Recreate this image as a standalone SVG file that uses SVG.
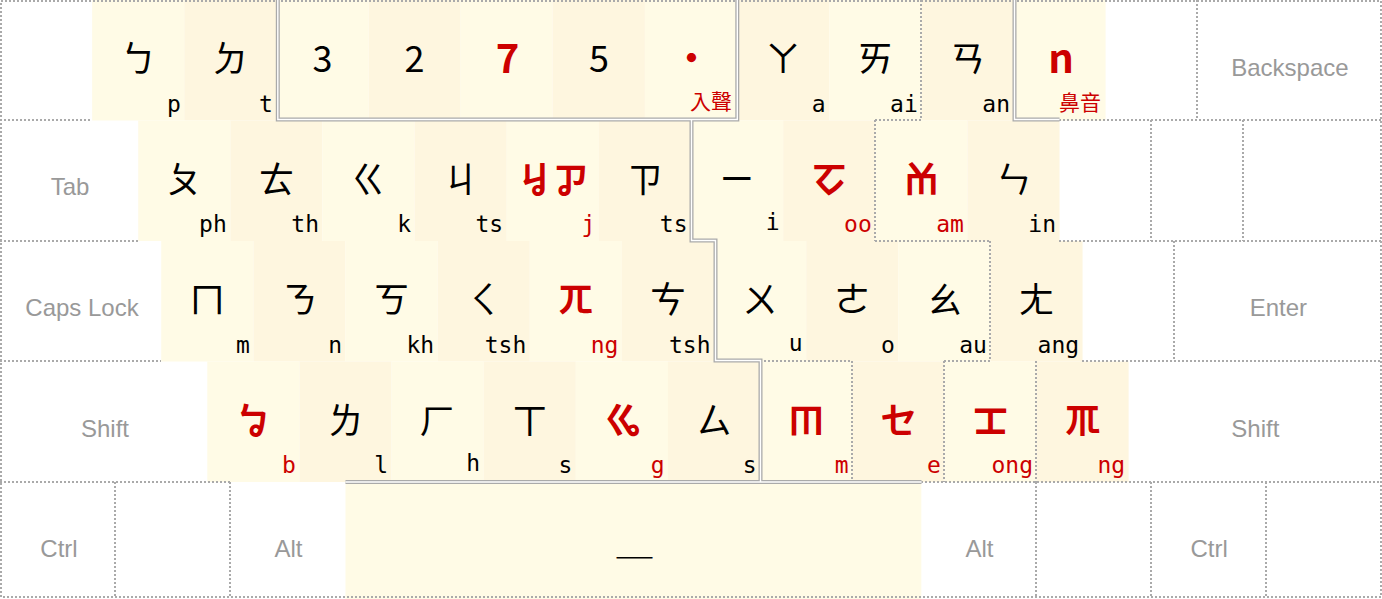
<svg xmlns="http://www.w3.org/2000/svg" width="1382" height="599" viewBox="0 0 1382 599">
<style>
.k1{fill:#fffbe6}
.k2{fill:#fef6df}
.g{font-family:"Noto Sans CJK TC","Noto Sans CJK SC",sans-serif;font-size:36px;text-anchor:middle;fill:#000}
.r{fill:#cc0000;font-weight:bold}
.big{font-size:40px}
.s{font-family:"DejaVu Sans Mono",monospace;font-size:23px;text-anchor:end;fill:#000}
.sr{fill:#cc0000}
.c{font-family:"Noto Sans CJK TC","Noto Sans CJK SC",sans-serif;font-size:21px;text-anchor:end;fill:#cc0000}
.m{font-family:"Liberation Sans",Arial,sans-serif;font-size:24px;fill:#999;text-anchor:middle}
.dot{fill:none;stroke:#aaa;stroke-width:2;stroke-dasharray:2 2}
.dbl{fill:none;stroke:#aaa;stroke-width:4}
.gap{fill:none;stroke:#fff;stroke-width:1.4}
</style>
<rect width="1382" height="599" fill="#fff"/>
<!-- Row 1 -->
<g id="key-backtick"/>
<g id="key-1"><rect class="k1" x="92.13" y="0" width="92.14" height="120.5"/><text class="g" x="138.2" y="72">ㄅ</text><text class="s" x="180.8" y="111.5">p</text></g>
<g id="key-2"><rect class="k2" x="184.27" y="0" width="92.13" height="120.5"/><text class="g" x="230.33" y="72">ㄉ</text><text class="s" x="272.9" y="111.5">t</text></g>
<g id="key-3"><rect class="k1" x="276.4" y="0" width="92.13" height="120.5"/><text class="g" x="322.47" y="72">3</text></g>
<g id="key-4"><rect class="k2" x="368.53" y="0" width="92.14" height="120.5"/><text class="g" x="414.6" y="72">2</text></g>
<g id="key-5"><rect class="k1" x="460.67" y="0" width="92.13" height="120.5"/><text class="g r big" x="507.5" y="73">7</text></g>
<g id="key-6"><rect class="k2" x="552.8" y="0" width="92.13" height="120.5"/><text class="g" x="598.87" y="72">5</text></g>
<g id="key-7"><rect class="k1" x="644.93" y="0" width="92.14" height="120.5"/><text class="g r" x="691.5" y="72">·</text><text class="c" x="732" y="108.5">入聲</text></g>
<g id="key-8"><rect class="k2" x="737.07" y="0" width="92.13" height="120.5"/><text class="g" x="783.13" y="72">ㄚ</text><text class="s" x="825.7" y="111.5">a</text></g>
<g id="key-9"><rect class="k1" x="829.2" y="0" width="92.13" height="120.5"/><text class="g" x="875.27" y="72">ㄞ</text><text class="s" x="917.8" y="111.5">ai</text></g>
<g id="key-0"><rect class="k2" x="921.33" y="0" width="92.14" height="120.5"/><text class="g" x="967.4" y="72">ㄢ</text><text class="s" x="1010" y="111.5">an</text></g>
<g id="key-minus"><rect class="k1" x="1013.47" y="0" width="92.13" height="120.5"/><text class="g r big" x="1061" y="73">n</text><text class="c" x="1101" y="109.5">鼻音</text></g>
<g id="key-equal"/>
<g id="key-backspace"><text class="m" x="1289.9" y="76">Backspace</text></g>
<!-- Row 2 -->
<g id="key-tab"><text class="m" x="70" y="195">Tab</text></g>
<g id="key-q"><rect class="k1" x="138.2" y="120.5" width="92.13" height="120.5"/><text class="g" x="184.27" y="192.5">ㄆ</text><text class="s" x="226.8" y="232">ph</text></g>
<g id="key-w"><rect class="k2" x="230.33" y="120.5" width="92.14" height="120.5"/><text class="g" x="276.4" y="192.5">ㄊ</text><text class="s" x="319" y="232">th</text></g>
<g id="key-e"><rect class="k1" x="322.47" y="120.5" width="92.13" height="120.5"/><text class="g" x="368.53" y="192.5">ㄍ</text><text class="s" x="411.1" y="232">k</text></g>
<g id="key-r"><rect class="k2" x="414.6" y="120.5" width="92.13" height="120.5"/><text class="g" x="460.67" y="192.5">ㄐ</text><text class="s" x="503.2" y="232">ts</text></g>
<g id="key-t"><rect class="k1" x="506.73" y="120.5" width="92.14" height="120.5"/><text class="g r" x="552.8" y="192.5">ㆢㆡ</text><text class="s sr" x="595.4" y="232">j</text></g>
<g id="key-y"><rect class="k2" x="598.87" y="120.5" width="92.13" height="120.5"/><text class="g" x="644.93" y="192.5">ㄗ</text><text class="s" x="687.5" y="232">ts</text></g>
<g id="key-u"><rect class="k1" x="691" y="120.5" width="92.13" height="120.5"/><text class="g" x="737.07" y="192.5">ㄧ</text><text class="s" x="779.6" y="230">i</text></g>
<g id="key-i"><rect class="k2" x="783.13" y="120.5" width="92.14" height="120.5"/><text class="g r" x="829.2" y="192.5">ㆦ</text><text class="s sr" x="871.8" y="232">oo</text></g>
<g id="key-o"><rect class="k1" x="875.27" y="120.5" width="92.13" height="120.5"/><text class="g r" x="921.33" y="192.5">ㆰ</text><text class="s sr" x="963.9" y="232">am</text></g>
<g id="key-p"><rect class="k2" x="967.4" y="120.5" width="92.13" height="120.5"/><text class="g" x="1013.47" y="192.5">ㄣ</text><text class="s" x="1056" y="232">in</text></g>
<g id="key-lbracket"/>
<g id="key-rbracket"/>
<g id="key-backslash"/>
<!-- Row 3 -->
<g id="key-caps"><text class="m" x="82" y="316">Caps Lock</text></g>
<g id="key-a"><rect class="k1" x="161.23" y="241" width="92.14" height="120.5"/><text class="g" x="207.3" y="313">ㄇ</text><text class="s" x="249.9" y="352.5">m</text></g>
<g id="key-s"><rect class="k2" x="253.37" y="241" width="92.13" height="120.5"/><text class="g" x="299.43" y="313">ㄋ</text><text class="s" x="342" y="352.5">n</text></g>
<g id="key-d"><rect class="k1" x="345.5" y="241" width="92.13" height="120.5"/><text class="g" x="391.57" y="313">ㄎ</text><text class="s" x="434.1" y="352.5">kh</text></g>
<g id="key-f"><rect class="k2" x="437.63" y="241" width="92.14" height="120.5"/><text class="g" x="483.7" y="313">ㄑ</text><text class="s" x="526.3" y="352.5">tsh</text></g>
<g id="key-g"><rect class="k1" x="529.77" y="241" width="92.13" height="120.5"/><text class="g r" x="575.83" y="313">ㄫ</text><text class="s sr" x="618.4" y="352.5">ng</text></g>
<g id="key-h"><rect class="k2" x="621.9" y="241" width="92.13" height="120.5"/><text class="g" x="667.97" y="313">ㄘ</text><text class="s" x="710.5" y="352.5">tsh</text></g>
<g id="key-j"><rect class="k1" x="714.03" y="241" width="92.14" height="120.5"/><text class="g" x="760.1" y="313">ㄨ</text><text class="s" x="802.7" y="351">u</text></g>
<g id="key-k"><rect class="k2" x="806.17" y="241" width="92.13" height="120.5"/><text class="g" x="852.23" y="313">ㄜ</text><text class="s" x="894.8" y="352.5">o</text></g>
<g id="key-l"><rect class="k1" x="898.3" y="241" width="92.13" height="120.5"/><text class="g" x="944.37" y="313">ㄠ</text><text class="s" x="986.9" y="352.5">au</text></g>
<g id="key-semicolon"><rect class="k2" x="990.43" y="241" width="92.14" height="120.5"/><text class="g" x="1036.5" y="313">ㄤ</text><text class="s" x="1079.1" y="352.5">ang</text></g>
<g id="key-quote"/>
<g id="key-enter"><text class="m" x="1278.4" y="316">Enter</text></g>
<!-- Row 4 -->
<g id="key-lshift"><text class="m" x="105" y="436.5">Shift</text></g>
<g id="key-z"><rect class="k1" x="207.3" y="361.5" width="92.13" height="120.5"/><text class="g r" x="253.37" y="433.5">ㆠ</text><text class="s sr" x="295.9" y="473">b</text></g>
<g id="key-x"><rect class="k2" x="299.43" y="361.5" width="92.14" height="120.5"/><text class="g" x="345.5" y="433.5">ㄌ</text><text class="s" x="388.1" y="473">l</text></g>
<g id="key-c"><rect class="k1" x="391.57" y="361.5" width="92.13" height="120.5"/><text class="g" x="437.63" y="433.5">ㄏ</text><text class="s" x="480.2" y="471">h</text></g>
<g id="key-v"><rect class="k2" x="483.7" y="361.5" width="92.13" height="120.5"/><text class="g" x="529.77" y="433.5">ㄒ</text><text class="s" x="572.3" y="473">s</text></g>
<g id="key-b"><rect class="k1" x="575.83" y="361.5" width="92.14" height="120.5"/><text class="g r" x="621.9" y="433.5">ㆣ</text><text class="s sr" x="664.5" y="473">g</text></g>
<g id="key-n"><rect class="k2" x="667.97" y="361.5" width="92.13" height="120.5"/><text class="g" x="714.03" y="433.5">ㄙ</text><text class="s" x="756.6" y="473">s</text></g>
<g id="key-m"><rect class="k1" x="760.1" y="361.5" width="92.13" height="120.5"/><text class="g r" x="806.17" y="433.5">ㆬ</text><text class="s sr" x="848.7" y="473">m</text></g>
<g id="key-comma"><rect class="k2" x="852.23" y="361.5" width="92.14" height="120.5"/><text class="g r" x="898.3" y="433.5">ㆤ</text><text class="s sr" x="940.9" y="473">e</text></g>
<g id="key-period"><rect class="k1" x="944.37" y="361.5" width="92.13" height="120.5"/><text class="g r" x="990.43" y="433.5">ㆲ</text><text class="s sr" x="1033" y="473">ong</text></g>
<g id="key-slash"><rect class="k2" x="1036.5" y="361.5" width="92.13" height="120.5"/><text class="g r" x="1082.57" y="433.5">ㆭ</text><text class="s sr" x="1125.1" y="473">ng</text></g>
<g id="key-rshift"><text class="m" x="1255.3" y="436.5">Shift</text></g>
<!-- Row 5 -->
<g id="key-lctrl"><text class="m" x="59" y="557">Ctrl</text></g>
<g id="key-lwin"/>
<g id="key-lalt"><text class="m" x="288.5" y="557">Alt</text></g>
<g id="key-space"><rect class="k1" x="345.5" y="482" width="575.83" height="117"/><text class="g" x="634.5" y="554">＿</text></g>
<g id="key-ralt"><text class="m" x="979.5" y="557">Alt</text></g>
<g id="key-rwin"/>
<g id="key-rctrl"><text class="m" x="1209.2" y="557">Ctrl</text></g>
<g id="key-menu"/>
<!-- borders -->
<g id="connectors">
<rect class="dot" x="1" y="1" width="1380" height="596"/>
<path class="dot" d="M0 120H92M875 120H921M1059 120H1382M921 0V120M1197 0V120"/>
<path class="dot" d="M875 120V241M1151 120V241M1243 120V241M0 241H138M875 241H990M1059 241H1382"/>
<path class="dot" d="M990 241V361M1174 241V361M0 361H161M760 361H852M944 361H990M1082 361H1382"/>
<path class="dot" d="M852 361V482M944 361V482M1036 361V482M0 482H230M921 482H1382"/>
<path class="dot" d="M115 482V598M230 482V598M1036 482V598M1151 482V598M1266 482V598"/>
<path class="dbl" d="M277.8 0V119.5H737.3V0M691.5 119.5V240.5H715.5V360.5H760.5V482M345.5 482H921.5M1014.5 0V119.5H1059.5"/>
<path class="gap" d="M277.8 0V119.5H737.3V0M691.5 119.5V240.5H715.5V360.5H760.5V482M345.5 482H921.5M1014.5 0V119.5H1059.5"/>
</g>
</svg>
